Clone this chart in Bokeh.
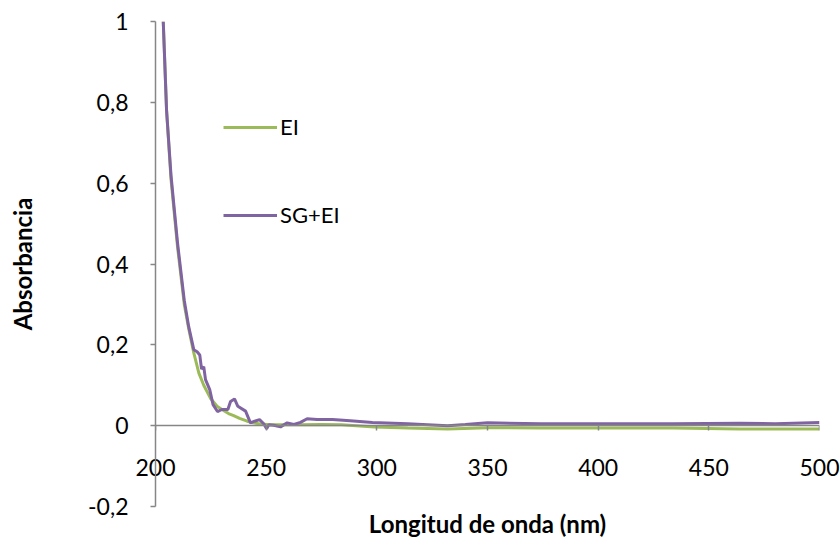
from bokeh.plotting import figure
from bokeh.models import (Range1d, FixedTicker, CustomJSTickFormatter, Legend, LegendItem,
                          LinearAxis)
from bokeh.embed import file_html
from bokeh.resources import INLINE

# Wavelength (nm) and absorbance values
wl_ei = [203.5, 205, 207, 210, 213, 215, 217.3, 219.6, 221.8, 224.8, 227.8, 230, 233,
         235.3, 238, 241.4, 244, 247.4, 252, 256.5, 265, 275, 284, 299, 314, 332, 350,
         374, 404, 434, 464, 500]
abs_ei = [1.0, 0.78, 0.61, 0.44, 0.30, 0.24, 0.18, 0.13, 0.10, 0.068, 0.048, 0.040, 0.030,
          0.025, 0.018, 0.011, 0.007, 0.004, 0.002, 0.002, 0.002, 0.003, 0.002, -0.003,
          -0.006, -0.008, -0.005, -0.006, -0.006, -0.006, -0.008, -0.008]

wl_sgei = [203.5, 205, 207, 210, 213, 215, 217.3, 218.8, 220, 220.8, 221.8, 222.6, 224.5,
           226, 228, 230, 232.7, 233.9, 235.7, 237.2, 240.7, 242.9, 244.8, 247, 249, 250.2,
           251.2, 253.4, 256.5, 259.5, 262.5, 265.5, 268.5, 273, 280, 288, 298, 314, 332,
           340, 350, 374, 404, 434, 464, 480, 500]
abs_sgei = [1.0, 0.78, 0.62, 0.45, 0.31, 0.245, 0.188, 0.183, 0.175, 0.14, 0.146, 0.114,
            0.089, 0.052, 0.035, 0.040, 0.040, 0.060, 0.066, 0.048, 0.036, 0.007, 0.011,
            0.015, 0.004, -0.008, 0.002, 0.001, -0.003, 0.007, 0.003, 0.008, 0.017, 0.015,
            0.015, 0.012, 0.008, 0.005, 0.0, 0.003, 0.007, 0.005, 0.005, 0.005, 0.006,
            0.005, 0.008]

x_ticks = [200, 250, 300, 350, 400, 450, 500]
y_ticks = [-0.2, 0, 0.2, 0.4, 0.6, 0.8, 1.0]
series_names = ["EI", "SG+EI"]
colors = ["#9BBB59", "#8064A2"]
x_title = "Longitud de onda (nm)"
y_title = "Absorbancia"

FONT = "Lato"
AXIS_COLOR = "#868686"
TICK_FS = "23px"
TITLE_FS = "24px"

p = figure(width=840, height=540, output_backend="svg", toolbar_location=None,
           x_range=Range1d(200, 500), y_range=Range1d(-0.2, 1.0),
           min_border_left=155, min_border_right=21, min_border_top=21, min_border_bottom=33)
p.outline_line_color = None
p.xgrid.grid_line_color = None
p.ygrid.grid_line_color = None
p.background_fill_color = "white"
p.border_fill_color = "white"

r1 = p.line(wl_ei, abs_ei, line_color=colors[0], line_width=3)
r2 = p.line(wl_sgei, abs_sgei, line_color=colors[1], line_width=3)

fmt = CustomJSTickFormatter(code="const v = Math.round(tick*10)/10; return v.toString().replace('.', ',');")
blank = CustomJSTickFormatter(code="return '';")

# Axis line + ticks at y = 0
zero_axis = LinearAxis(fixed_location=0, ticker=FixedTicker(ticks=x_ticks), formatter=blank,
                       axis_line_color=AXIS_COLOR, axis_line_width=1.5,
                       major_tick_line_color=AXIS_COLOR, major_tick_line_width=1.5,
                       major_tick_out=5, major_tick_in=0, minor_tick_line_color=None,
                       major_label_text_font_size="0px")
p.add_layout(zero_axis, "below")

# Tick labels and title (no line) at the bottom
xa = p.xaxis[0]
xa.ticker = FixedTicker(ticks=x_ticks)
xa.axis_line_color = None
xa.major_tick_line_color = None
xa.minor_tick_line_color = None
xa.major_tick_out = 0
xa.major_tick_in = 0
xa.major_label_standoff = -48
xa.major_label_text_font = FONT
xa.major_label_text_font_size = TICK_FS
xa.major_label_text_color = "black"
xa.axis_label = x_title
xa.axis_label_text_font = FONT
xa.axis_label_text_font_style = "bold"
xa.axis_label_text_font_size = TITLE_FS
xa.axis_label_text_color = "black"
xa.axis_label_standoff = 30

ya = p.yaxis[0]
ya.ticker = FixedTicker(ticks=y_ticks)
ya.formatter = fmt
ya.axis_line_color = AXIS_COLOR
ya.axis_line_width = 1.5
ya.major_tick_line_color = AXIS_COLOR
ya.major_tick_line_width = 1.5
ya.major_tick_out = 5
ya.major_tick_in = 0
ya.minor_tick_line_color = None
ya.major_label_standoff = 22
ya.major_label_text_font = FONT
ya.major_label_text_font_size = TICK_FS
ya.major_label_text_color = "black"
ya.axis_label = y_title
ya.axis_label_text_font = FONT
ya.axis_label_text_font_style = "bold"
ya.axis_label_text_font_size = TITLE_FS
ya.axis_label_text_color = "black"
ya.axis_label_standoff = 48

legend = Legend(items=[LegendItem(label=series_names[0], renderers=[r1]),
                       LegendItem(label=series_names[1], renderers=[r2])],
                location=(68, 278), orientation="vertical")
legend.border_line_color = None
legend.background_fill_alpha = 0
legend.padding = 0
legend.margin = 0
legend.spacing = 61
legend.glyph_width = 54
legend.glyph_height = 22
legend.label_height = 22
legend.label_standoff = 3
legend.label_text_font = FONT
legend.label_text_font_size = "22px"
legend.label_text_color = "black"
p.add_layout(legend, "center")

open("out.html", "w").write(file_html(p, INLINE))
